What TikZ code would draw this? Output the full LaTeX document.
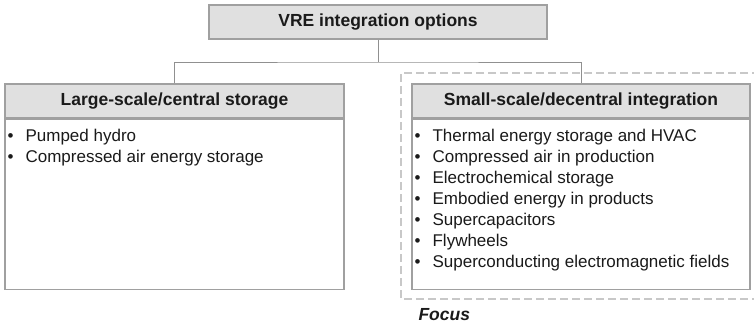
\documentclass[tikz,border=0pt]{standalone}
\usepackage{fontspec}
\setmainfont{Liberation Sans}
\usetikzlibrary{positioning}

\definecolor{boxline}{HTML}{A0A0A0}
\definecolor{hdrfill}{HTML}{E0E0E0}
\definecolor{dashgray}{HTML}{C8C8C8}
\definecolor{txt}{HTML}{1A1A1A}

\newcommand{\itm}[1]{\makebox[19pt][l]{\hspace{1pt}•}#1}

\tikzset{
  hdr/.style={draw=boxline, fill=hdrfill, line width=1.2pt, inner sep=0pt,
    minimum height=34pt, text=txt, font=\fontsize{17.5}{21}\selectfont\bfseries},
  bodybox/.style={draw=boxline, fill=white, line width=1.2pt, inner sep=0pt},
  itemlist/.style={align=left, inner sep=0pt, text=txt,
    font=\fontsize{17}{21}\selectfont},
  link/.style={draw=boxline!90!black, line width=1pt},
  focusline/.style={draw=dashgray, line width=2.8pt, dash pattern=on 8pt off 4pt}
}

\begin{document}
\begin{tikzpicture}[x=1pt,y=-1pt]
\useasboundingbox (0,0) rectangle (754,327);

% focus frame
\draw[focusline] (760,73) -- (401,73) -- (401,299) -- (760,299);
\node[anchor=base west, text=txt, font=\fontsize{17.5}{21}\selectfont\bfseries\itshape]
  (focus) at (415,320) {Focus};

% top
\node[hdr, minimum width=338pt] (top) at (378,22) {VRE integration options};

% left column
\node[hdr, minimum width=339pt] (lhdr) at (174.5,101) {Large-scale/central storage};
\node[bodybox, minimum width=339pt, minimum height=170pt, below=0pt of lhdr] (lbody) {};
\node[itemlist, anchor=north west] (llist) at ([xshift=2pt,yshift=-10pt]lbody.north west)
  {\itm{Pumped hydro}\\ \itm{Compressed air energy storage}};

% right column
\node[hdr, minimum width=338pt] (rhdr) at (581,101) {Small-scale/decentral integration};
\node[bodybox, minimum width=338pt, minimum height=170pt, below=0pt of rhdr] (rbody) {};
\node[itemlist, anchor=north west] (rlist) at ([xshift=2pt,yshift=-10pt]rbody.north west)
  {\itm{Thermal energy storage and HVAC}\\
   \itm{Compressed air in production}\\
   \itm{Electrochemical storage}\\
   \itm{Embodied energy in products}\\
   \itm{Supercapacitors}\\
   \itm{Flywheels}\\
   \itm{Superconducting electromagnetic fields}};

% connectors
\coordinate (split) at (378,62);
\draw[link] (top.south) -- (split);
\draw[link] (lhdr.north) |- (split) -| (rhdr.north);
\end{tikzpicture}
\end{document}
